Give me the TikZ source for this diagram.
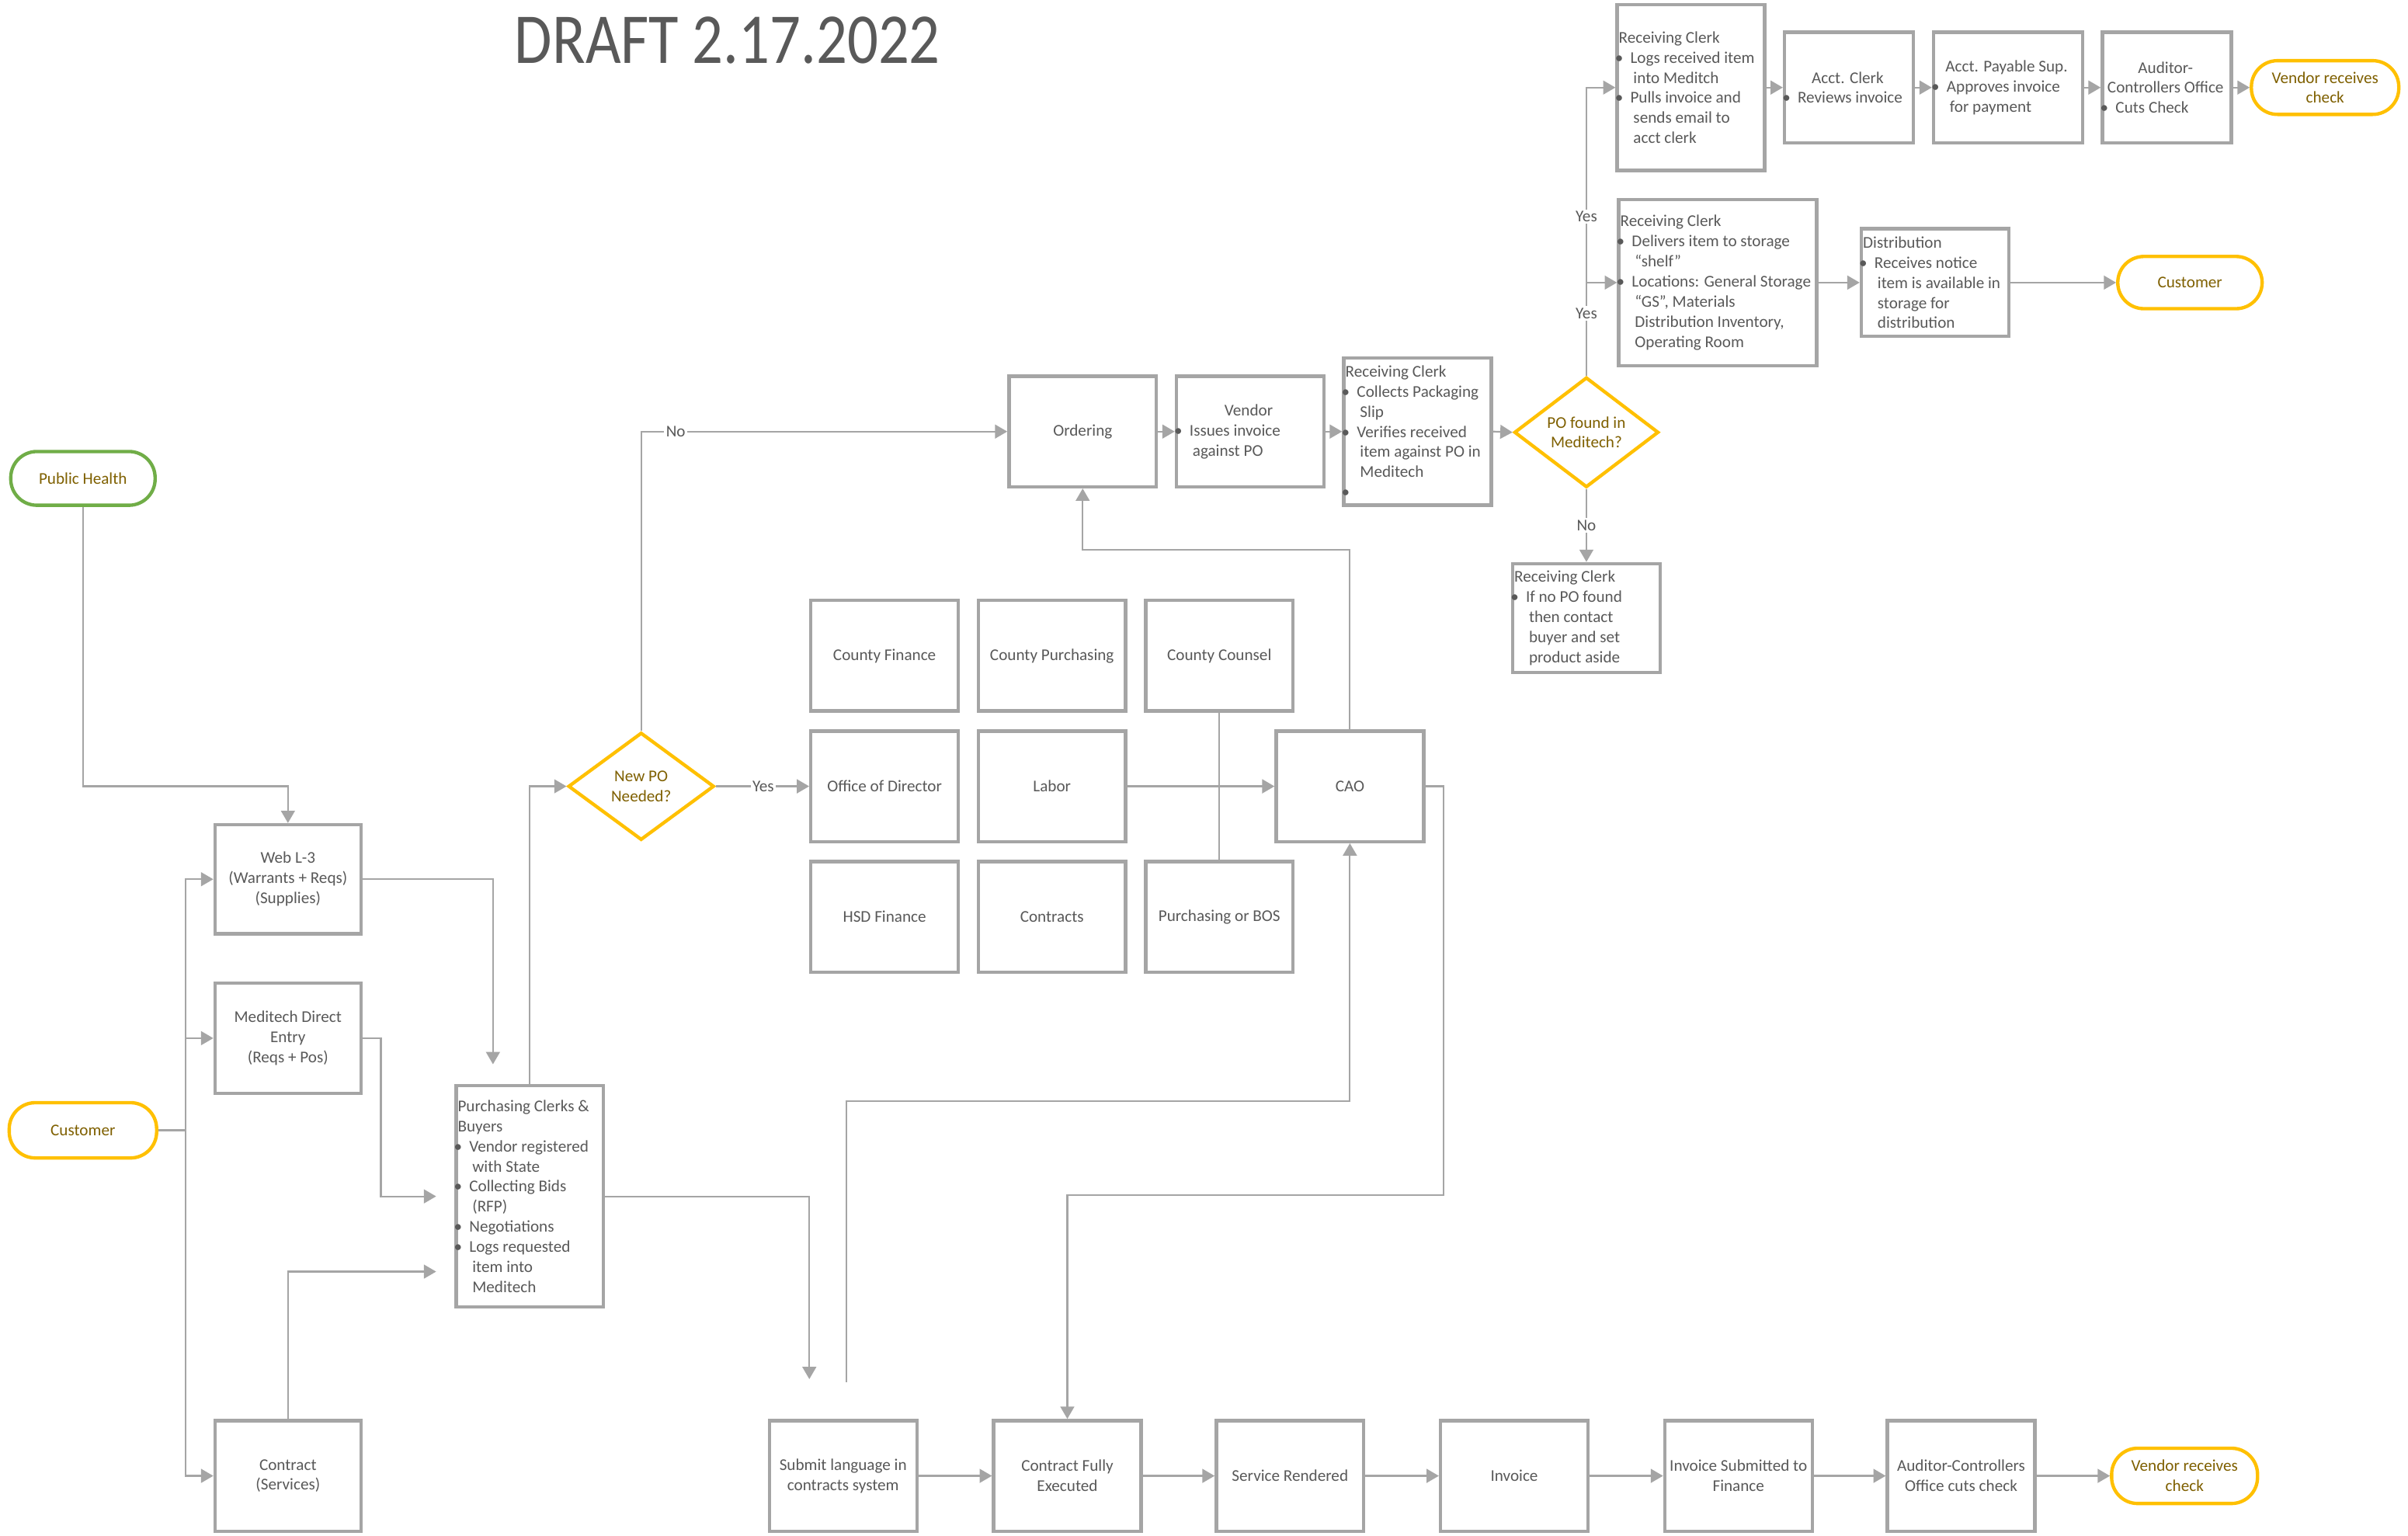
\documentclass[tikz,border=0pt]{standalone}
\usepackage{fontspec}
\setmainfont{Carlito}
\usepackage{graphicx}
\usetikzlibrary{arrows.meta,shapes.geometric,calc}
\definecolor{bdr}{HTML}{A5A5A5}
\definecolor{conn}{HTML}{A5A5A5}
\definecolor{txt}{HTML}{595959}
\definecolor{ylw}{HTML}{FFC000}
\definecolor{grn}{HTML}{70AD47}
\definecolor{gold}{HTML}{7F6000}
\newcommand\fsz{\fontsize{10.7}{13.1}\selectfont}
\newcommand\bulit{\hspace*{-2.5pt}\makebox[10pt][l]{\textbullet}}
\newcommand\contind{\hspace*{9.5pt}}
\begin{document}
\begin{tikzpicture}[x=1pt,y=-1pt,
  box/.style={draw=bdr,line width=2.2pt,fill=white,inner sep=0pt,text=txt,font=\fsz,align=center,minimum width=96pt,minimum height=72pt},
  oval/.style={draw=#1,line width=2.2pt,fill=white,inner sep=0pt,text=gold,font=\fsz,align=center,rounded corners=17pt,minimum width=95pt,minimum height=35pt},
  dia/.style={diamond,draw=ylw,line width=2.2pt,fill=white,inner sep=0pt,text=gold,font=\fsz,align=center,minimum width=94pt,minimum height=70pt},
  tx/.style={anchor=west,inner sep=0pt,text=txt,font=\fsz,align=left},
  line/.style={draw=conn,line width=1.1pt},
  arr/.style={line,-{Triangle[length=8pt,width=9pt]}},
  lbl/.style={fill=white,inner sep=1.2pt,text=txt,font=\fsz}]
\useasboundingbox[fill=white] (0,0) rectangle (1568,1000);

% title
\node[anchor=base west,inner sep=0pt,text=txt] (title) at (335,41) {\scalebox{0.854}[1]{\fontsize{46.6}{50}\selectfont DRAFT 2.17.2022}};

% top right row
\node[box,minimum width=96pt,minimum height=108pt] (rc1) at (1101,57) {};
\node[tx] (trc1) at ($(rc1.west)+(2,0)$) {Receiving Clerk\\\bulit Logs received item\\\contind into Meditch\\\bulit Pulls invoice and\\\contind sends email to\\\contind acct clerk};
\node[box,minimum width=84pt] (ac) at (1204,57) {};
\node[tx] (tac) at ($(ac.west)+(2,0)$) {\makebox[80pt]{Acct. Clerk}\\\bulit Reviews invoice};
\node[box,minimum width=97pt] (ap) at (1307.5,57) {};
\node[tx] (tap) at ($(ap.west)+(2,0)$) {\makebox[93pt]{Acct. Payable Sup.}\\\bulit Approves invoice\\\contind for payment};
\node[box,minimum width=84pt] (aud) at (1411,57) {};
\node[tx] (taud) at ($(aud.west)+(2,0)$) {\makebox[80pt]{Auditor-}\\\makebox[80pt]{Controllers Office}\\\bulit Cuts Check};
\node[oval=ylw,minimum width=96pt] (vr1) at (1514,57) {Vendor receives\\check};

% second row
\node[box,minimum width=129pt,minimum height=108pt] (rc2) at (1118.5,184) {};
\node[tx] (trc2) at ($(rc2.west)+(2,0)$) {Receiving Clerk\\\bulit Delivers item to storage\\\contind “shelf”\\\bulit Locations: General Storage\\\contind “GS”, Materials\\\contind Distribution Inventory,\\\contind Operating Room};
\node[box,minimum width=96pt,minimum height=70pt] (dist) at (1260,184) {};
\node[tx] (tdist) at ($(dist.west)+(2,0)$) {Distribution\\\bulit Receives notice\\\contind item is available in\\\contind storage for\\\contind distribution};
\node[oval=ylw,minimum width=94pt,minimum height=34pt] (cust2) at (1426,184) {Customer};

% ordering row
\node[box] (ord) at (705,281) {Ordering};
\node[box] (ven) at (814,281) {};
\node[tx] (tven) at ($(ven.west)+(2,0)$) {\makebox[92pt]{Vendor}\\\bulit Issues invoice\\\contind against PO};
\node[box,minimum height=96pt] (rc4) at (923,281) {};
\node[tx] (trc4) at ($(rc4.west)+(2,0)$) {Receiving Clerk\\\bulit Collects Packaging\\\contind Slip\\\bulit Verifies received\\\contind item against PO in\\\contind Meditech\\\bulit};
\node[dia] (pf) at (1033,281.5) {PO found in\\Meditech?};
\node[box,minimum height=71pt] (rc3) at (1033,402.5) {};
\node[tx] (trc3) at ($(rc3.west)+(2,0)$) {Receiving Clerk\\\bulit If no PO found\\\contind then contact\\\contind buyer and set\\\contind product aside};

% left column
\node[oval=grn,minimum width=94pt] (ph) at (54,311.5) {Public Health};
\node[box,minimum width=95pt,minimum height=71pt] (web) at (187.5,572.5) {Web L-3\\(Warrants + Reqs)\\(Supplies)};
\node[box,minimum width=95pt] (med) at (187.5,676) {Meditech Direct\\Entry\\(Reqs + Pos)};
\node[oval=ylw,minimum width=96pt,minimum height=36pt] (cust) at (54,736) {Customer};
\node[box,minimum width=95pt] (con) at (187.5,961) {Contract\\(Services)};
\node[box,minimum height=144pt] (pc) at (345,779) {};
\node[tx] (tpc) at ($(pc.west)+(2,0)$) {Purchasing Clerks \&\\Buyers\\\bulit Vendor registered\\\contind with State\\\bulit Collecting Bids\\\contind (RFP)\\\bulit Negotiations\\\bulit Logs requested\\\contind item into\\\contind Meditech};
\node[dia,minimum width=95pt] (np) at (417.5,512) {New PO\\Needed?};

% grid
\node[box] (cf) at (576,427) {County Finance};
\node[box] (cp) at (685,427) {County Purchasing};
\node[box] (cc) at (794,427) {County Counsel};
\node[box] (od) at (576,512) {Office of Director};
\node[box] (lab) at (685,512) {Labor};
\node[box] (cao) at (879,512) {CAO};
\node[box] (hf) at (576,597) {HSD Finance};
\node[box] (ctr) at (685,597) {Contracts};
\node[box] (pb) at (794,597) {Purchasing or BOS};

% bottom row
\node[box] (sb) at (549,961) {Submit language in\\contracts system};
\node[box] (cfe) at (695,961) {Contract Fully\\Executed};
\node[box] (sr) at (840,961) {Service Rendered};
\node[box] (inv) at (986,961) {Invoice};
\node[box] (isf) at (1132,961) {Invoice Submitted to\\Finance};
\node[box] (acc) at (1277,961) {Auditor-Controllers\\Office cuts check};
\node[oval=ylw,minimum width=95pt,minimum height=36pt] (vr2) at (1422.5,961) {Vendor receives\\check};

% helper coordinates
\coordinate (phc) at (54,512);
\coordinate (j1) at (121,736);
\coordinate (pin1) at (321,693);
\coordinate (mc) at (248,676);
\coordinate (pin2) at (284,779);
\coordinate (pin3) at (284,828);
\coordinate (sbin) at (527,898);
\coordinate (sbout) at (551,900);
\coordinate (sc) at (551,717);
\coordinate (cu) at (879,358);
\coordinate (cr) at (940,778);

% connectors
\draw[arr] (ph.south) -- (phc) -| (web.north);
\draw[line] (cust.east) -- (j1);
\draw[arr] (j1) |- (web.west);
\draw[arr] (j1) |- (med.west);
\draw[arr] (j1) |- (con.west);
\draw[arr] (web.east) -| (pin1);
\draw[arr] (med.east) -- (mc) |- (pin2);
\draw[arr] (con.north) |- (pin3);
\draw[arr] (pc.north) |- (np.west);
\draw[arr] (pc.east) -| (sbin);
\draw[arr] (np.north) |- (ord.west);
\draw[arr] (np.east) -- (od.west);
\draw[arr] (lab.east) -- (cao.west);
\draw[line] (cc.south) -- (pb.north);
\draw[arr] (cao.north) -- (cu) -| (ord.south);
\draw[arr] (cao.east) -| (cr) -| (cfe.north);
\draw[arr] (sbout) -- (sc) -| (cao.south);
\draw[arr] (ord.east) -- (ven.west);
\draw[arr] (ven.east) -- (rc4.west);
\draw[arr] (rc4.east) -- (pf.west);
\draw[arr] (pf.north) |- (rc1.west);
\draw[arr] (pf.north) |- (rc2.west);
\draw[arr] (pf.south) -- (rc3.north);
\draw[arr] (rc1.east) -- (ac.west);
\draw[arr] (ac.east) -- (ap.west);
\draw[arr] (ap.east) -- (aud.west);
\draw[arr] (aud.east) -- (vr1.west);
\draw[arr] (rc2.east) -- (dist.west);
\draw[arr] (dist.east) -- (cust2.west);
\draw[arr] (sb.east) -- (cfe.west);
\draw[arr] (cfe.east) -- (sr.west);
\draw[arr] (sr.east) -- (inv.west);
\draw[arr] (inv.east) -- (isf.west);
\draw[arr] (isf.east) -- (acc.west);
\draw[arr] (acc.east) -- (vr2.west);

% labels
\node[lbl] (lno1) at (440,281) {No};
\node[lbl] (lyes1) at (497,512) {Yes};
\node[lbl] (lyes2) at (1033,141) {Yes};
\node[lbl] (lyes3) at (1033,204) {Yes};
\node[lbl] (lno2) at (1033,342) {No};
\end{tikzpicture}
\end{document}
